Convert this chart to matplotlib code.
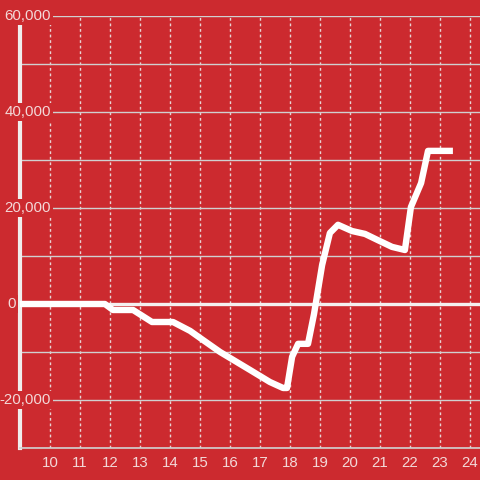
import matplotlib
matplotlib.use("Agg")
import matplotlib.pyplot as plt
from matplotlib.ticker import MultipleLocator

x_vals = [9, 11.83, 12.1, 12.77, 13.4, 14.1, 14.67, 15.1, 15.67, 16.67, 17.33, 17.77, 17.9,
          18.07, 18.27, 18.6, 18.8, 19.07, 19.33, 19.6, 20.07, 20.5, 20.93, 21.4, 21.83,
          22.03, 22.37, 22.6, 23.43]
y_vals = [0, 0, -1250, -1250, -3750, -3750, -5600, -7500, -10000, -13750, -16250, -17500, -17500,
          -11000, -8300, -8300, -2100, 8100, 14800, 16500, 15200, 14600, 13300, 11900, 11250,
          20200, 25200, 31900, 31900]
x_ticks = list(range(10, 25))
y_ticks = [60000, 40000, 20000, 0, -20000]
y_labels = ["60,000", "40,000", "20,000", "0", "-20,000"]

BG = "#cc2a2f"
TXT = "#f3d8d8"
plt.rcParams['font.family'] = ['Liberation Sans', 'DejaVu Sans']

fig = plt.figure(figsize=(4.8, 4.8), dpi=100, facecolor=BG)
ax = fig.add_axes([20/480, 32/480, 460/480, 432/480])
ax.set_facecolor(BG)
ax.set_xlim(9, 24.333)
ax.set_ylim(-30000, 60000)

# grids
ax.yaxis.set_major_locator(MultipleLocator(10000))
ax.set_xticks(x_ticks)
ax.grid(axis='y', color='#d0d0d0', lw=1.0, zorder=1)
ax.grid(axis='x', color='#e8d4d4', lw=1.0, ls=(0, (2, 2)), zorder=1)
ax.set_yticklabels([])
ax.tick_params(axis='y', length=0)
ax.tick_params(axis='x', length=0, pad=6, labelsize=10.8, labelcolor=TXT)

for s in ['top', 'right']:
    ax.spines[s].set_visible(False)
ax.spines['bottom'].set_color('#d0d0d0')
ax.spines['bottom'].set_linewidth(1.2)
ax.spines['left'].set_color('#f0eded')
ax.spines['left'].set_linewidth(3)
ax.spines['left'].set_zorder(2)

ax.axhline(0, color='#f4f0f0', lw=2.4, zorder=2)

ax.plot(x_vals, y_vals, color='white', lw=4.6, solid_capstyle='butt',
        solid_joinstyle='round', zorder=4)

tr = ax.get_yaxis_transform()
for v, lab in zip(y_ticks, y_labels):
    xpos = (16 - 20) / 460 if lab == "0" else (51 - 20) / 460
    ax.text(xpos, v, lab, transform=tr, ha='right', va='center', fontsize=10.8,
            color=TXT, zorder=5, clip_on=False,
            bbox=dict(boxstyle='square,pad=0.15', fc=BG, ec='none'))

fig.savefig("out.png", dpi=100, facecolor=BG)
